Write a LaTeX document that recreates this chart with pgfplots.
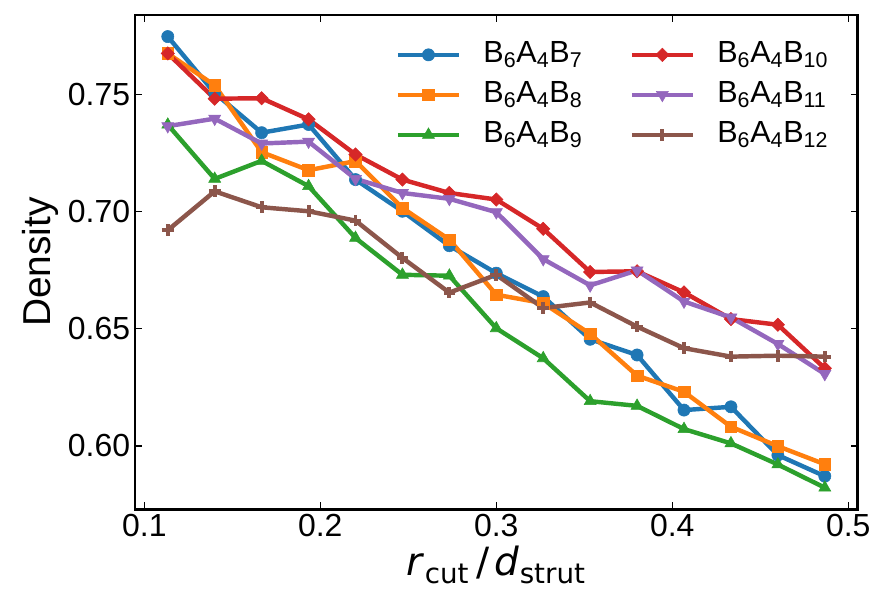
\documentclass[border=0pt]{standalone}
\usepackage{pgfplots}
\usepackage{pgfplotstable}
\pgfplotsset{compat=1.18}
\usepackage{fontspec}
\setmainfont{Liberation Sans}
\newfontfamily\mathsans{DejaVu Sans}

\definecolor{tabblue}{HTML}{1F77B4}
\definecolor{taborange}{HTML}{FF7F0E}
\definecolor{tabgreen}{HTML}{2CA02C}
\definecolor{tabred}{HTML}{D62728}
\definecolor{tabpurple}{HTML}{9467BD}
\definecolor{tabbrown}{HTML}{8C564B}

% density versus r_cut / d_strut for each structure
\pgfplotstableread{
x       b7     b8     b9     b10    b11    b12
0.11333 0.7746 0.7674 0.7370 0.7674 0.7364 0.6920
0.14000 0.7505 0.7538 0.7139 0.7481 0.7396 0.7086
0.16667 0.7336 0.7253 0.7216 0.7483 0.7290 0.7018
0.19333 0.7371 0.7176 0.7108 0.7393 0.7298 0.7001
0.22000 0.7136 0.7215 0.6887 0.7243 0.7139 0.6961
0.24667 0.7001 0.7015 0.6730 0.7136 0.7079 0.6802
0.27333 0.6854 0.6880 0.6726 0.7079 0.7054 0.6654
0.30000 0.6737 0.6645 0.6502 0.7051 0.6997 0.6730
0.32667 0.6637 0.6609 0.6374 0.6926 0.6797 0.6588
0.35333 0.6455 0.6478 0.6191 0.6742 0.6685 0.6612
0.38000 0.6388 0.6300 0.6171 0.6745 0.6749 0.6509
0.40667 0.6153 0.6231 0.6072 0.6655 0.6616 0.6417
0.43333 0.6167 0.6082 0.6011 0.6541 0.6548 0.6381
0.46000 0.5961 0.5999 0.5921 0.6517 0.6435 0.6385
0.48667 0.5871 0.5922 0.5822 0.6331 0.6307 0.6381
}\density

% series styles
\pgfplotsset{
  sB7/.style={tabblue, mark=*, mark size=4.4bp, mark options={solid, fill=tabblue, draw=tabblue, line width=0.4bp}},
  sB8/.style={taborange, mark=square*, mark size=4.2bp, mark options={solid, fill=taborange, draw=taborange, line width=0.4bp}},
  sB9/.style={tabgreen, mark=triangle*, mark size=5bp, mark options={solid, fill=tabgreen, draw=tabgreen, line width=0.4bp}},
  sB10/.style={tabred, mark=square*, mark size=3.4bp, mark options={solid, rotate=45, fill=tabred, draw=tabred, line width=0.4bp}},
  sB11/.style={tabpurple, mark=triangle*, mark size=5bp, mark options={solid, rotate=180, fill=tabpurple, draw=tabpurple, line width=0.4bp}},
  sB12/.style={tabbrown, mark=+, mark size=4.2bp, mark options={solid, draw=tabbrown, line width=2.8bp}},
}

\begin{document}
\begin{tikzpicture}
\path[use as bounding box] (-97.2bp,-63.1bp) rectangle (535bp,366.7bp);
\begin{axis}[
  at={(0,0)}, anchor=south west,
  scale only axis,
  width=520.3bp, height=355.9bp,
  xmin=0.0947, xmax=0.5053,
  ymin=0.5730, ymax=0.7838,
  xtick={0.1,0.2,0.3,0.4,0.5},
  ytick={0.60,0.65,0.70,0.75},
  minor tick num=0,
  tick align=inside,
  major tick length=5bp,
  tick style={line width=0.9bp, black},
  axis line style={line width=1.9bp, black},
  xticklabel style={/pgf/number format/.cd, fixed, fixed zerofill, precision=1},
  yticklabel style={/pgf/number format/.cd, fixed, fixed zerofill, precision=2},
  /pgf/number format/assume math mode=true,
  tick label style={font=\fontsize{23bp}{27bp}\selectfont},
  xlabel={{\mathsans\textit{r}\textsubscript{\fontsize{20bp}{20bp}\selectfont cut}\hspace{5bp}/\hspace{4bp}\textit{d}\textsubscript{\fontsize{20bp}{20bp}\selectfont strut}}},
  ylabel={Density},
  xlabel style={font=\fontsize{28bp}{32bp}\selectfont},
  ylabel style={font=\fontsize{28bp}{32bp}\selectfont},
  every axis plot/.append style={line width=3.2bp},
  legend columns=2,
  legend cell align=left,
  legend style={
    at={(rel axis cs:1,1)}, anchor=north east,
    xshift=-21bp, yshift=-18bp,
    draw=none, fill=none, inner sep=0pt,
    font=\fontsize{22bp}{26bp}\selectfont,
    nodes={inner sep=0pt, text height=16bp, text depth=5bp},
    row sep=7.8bp,
    /tikz/every odd column/.append style={column sep=16bp},
    /tikz/every even column/.append style={column sep=34bp},
  },
  legend image code/.code={%
    \draw[mark repeat=2, mark phase=2]
      plot coordinates {(0bp,0bp) (22bp,0bp) (44bp,0bp)};
  },
]
% drawing order: B7 first, B12 on top
\addplot[sB7, forget plot] table[x=x, y=b7] {\density};
\addplot[sB8, forget plot] table[x=x, y=b8] {\density};
\addplot[sB9, forget plot] table[x=x, y=b9] {\density};
\addplot[sB10, forget plot] table[x=x, y=b10] {\density};
\addplot[sB11, forget plot] table[x=x, y=b11] {\density};
\addplot[sB12, forget plot] table[x=x, y=b12] {\density};
% legend filled row by row: left column B7-B9, right column B10-B12
\addlegendimage{sB7, line width=3.2bp}
\addlegendentry{B\textsubscript{6}A\textsubscript{4}B\textsubscript{7}}
\addlegendimage{sB10, line width=3.2bp}
\addlegendentry{B\textsubscript{6}A\textsubscript{4}B\textsubscript{10}}
\addlegendimage{sB8, line width=3.2bp}
\addlegendentry{B\textsubscript{6}A\textsubscript{4}B\textsubscript{8}}
\addlegendimage{sB11, line width=3.2bp}
\addlegendentry{B\textsubscript{6}A\textsubscript{4}B\textsubscript{11}}
\addlegendimage{sB9, line width=3.2bp}
\addlegendentry{B\textsubscript{6}A\textsubscript{4}B\textsubscript{9}}
\addlegendimage{sB12, line width=3.2bp}
\addlegendentry{B\textsubscript{6}A\textsubscript{4}B\textsubscript{12}}
\end{axis}
\end{tikzpicture}
\end{document}
